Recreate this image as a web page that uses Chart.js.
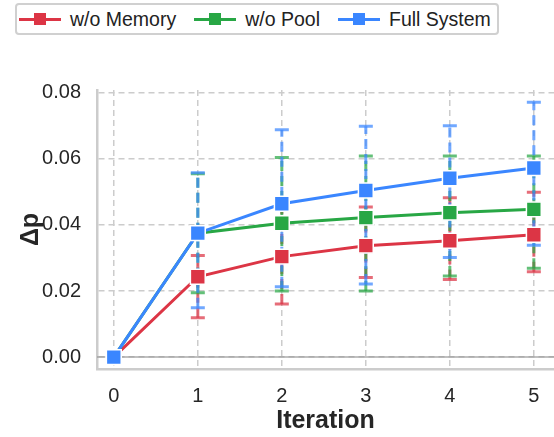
<!DOCTYPE html>
<html>
<head>
<meta charset="utf-8">
<script src="https://cdn.jsdelivr.net/npm/chart.js@4/dist/chart.umd.min.js"></script>
<style>
  body { margin: 0; background: #fff; font-family: 'Liberation Sans', Arial, sans-serif; }
  #wrap { position: relative; width: 554px; height: 437px; }
  #legend {
    position: absolute; left: 15px; top: 3px; width: 478px; height: 28px;
    border: 2px solid #d0d0d0; border-radius: 4px; background: #fff;
    display: flex; align-items: center; padding-left: 2px; box-sizing: content-box;
    font-size: 19.5px; color: #222; white-space: nowrap;
  }
  .item { display: flex; align-items: center; margin-right: 18px; }
  .glyph { position: relative; width: 42px; height: 3px; margin-right: 9px; }
  .glyph span { position: absolute; left: 15px; top: -5px; width: 12px; height: 12px; }
</style>
</head>
<body>
<div id="wrap">
  <canvas id="chart" width="554" height="437"></canvas>
  <div id="legend"></div>
</div>
<script>
// Datos
const iterations = [0, 1, 2, 3, 4, 5];
const yTicks = [0, 0.02, 0.04, 0.06, 0.08];

const memoryMean = [0, 0.0243, 0.0304, 0.0337, 0.0352, 0.0370];
const memoryLow  = [0, 0.0119, 0.0161, 0.0241, 0.0235, 0.0258];
const memoryHigh = [0, 0.0307, 0.0455, 0.0454, 0.0482, 0.0499];

const poolMean = [0, 0.0375, 0.0405, 0.0422, 0.0437, 0.0447];
const poolLow  = [0, 0.0195, 0.0200, 0.0200, 0.0245, 0.0269];
const poolHigh = [0, 0.0555, 0.0604, 0.0608, 0.0608, 0.0608];

const fullMean = [0, 0.0375, 0.0464, 0.0504, 0.0541, 0.0572];
const fullLow  = [0, 0.0149, 0.0213, 0.0221, 0.0301, 0.0338];
const fullHigh = [0, 0.0558, 0.0688, 0.0698, 0.0700, 0.0771];

const series = [
  { label: 'w/o Memory', mean: memoryMean, low: memoryLow, high: memoryHigh, color: '#dc3545', order: 2 },
  { label: 'w/o Pool', mean: poolMean, low: poolLow, high: poolHigh, color: '#28a745', order: 1 },
  { label: 'Full System', mean: fullMean, low: fullLow, high: fullHigh, color: '#3a86ff', order: 0 }
];

const xRange = [-0.2, 5.24];
const yRange = [-0.0036, 0.0808];

Chart.defaults.font.family = "'Liberation Sans', Arial, sans-serif";
Chart.defaults.color = '#262626';

// linea gris en y = 0 y barras de error discontinuas
const extras = {
  id: 'extras',
  beforeDatasetsDraw(chart) {
    const { ctx, chartArea, scales: { x, y } } = chart;
    const y0 = y.getPixelForValue(0);
    ctx.save();
    ctx.strokeStyle = 'rgba(150,150,150,0.6)';
    ctx.lineWidth = 2;
    ctx.beginPath();
    ctx.moveTo(chartArea.left, y0);
    ctx.lineTo(chartArea.right, y0);
    ctx.stroke();

    series.forEach(s => {
      ctx.strokeStyle = s.color;
      ctx.globalAlpha = 0.72;
      iterations.forEach((it, i) => {
        if (s.low[i] === s.high[i]) return;
        const px = x.getPixelForValue(it);
        const pLo = y.getPixelForValue(s.low[i]);
        const pHi = y.getPixelForValue(s.high[i]);
        ctx.lineWidth = 3;
        ctx.setLineDash([10, 5]);
        ctx.beginPath();
        ctx.moveTo(px, pLo);
        ctx.lineTo(px, pHi);
        ctx.stroke();
        ctx.setLineDash([]);
        ctx.lineWidth = 3;
        ctx.beginPath();
        ctx.moveTo(px - 7, pLo); ctx.lineTo(px + 7, pLo);
        ctx.moveTo(px - 7, pHi); ctx.lineTo(px + 7, pHi);
        ctx.stroke();
      });
    });
    ctx.restore();
  }
};

const chart = new Chart(document.getElementById('chart'), {
  type: 'line',
  data: {
    datasets: series.map(s => ({
      label: s.label,
      data: iterations.map((it, i) => ({ x: it, y: s.mean[i] })),
      borderColor: s.color,
      backgroundColor: s.color,
      borderWidth: 3,
      pointStyle: 'rect',
      pointRadius: 10.5,
      pointBorderColor: '#ffffff',
      pointBorderWidth: 1.5,
      order: s.order
    }))
  },
  options: {
    responsive: false,
    animation: false,
    devicePixelRatio: 1,
    layout: { autoPadding: false, padding: { top: 90, right: 0, left: 0, bottom: 0 } },
    plugins: { legend: { display: false }, tooltip: { enabled: false } },
    scales: {
      x: {
        type: 'linear',
        min: xRange[0],
        max: xRange[1],
        afterBuildTicks: s => {
          s.ticks = iterations.map(v => ({ value: v }));
          s.min = xRange[0];
          s.max = xRange[1];
        },
        afterFit: s => { s.height = 68; s.paddingLeft = 0; s.paddingRight = 0; },
        ticks: { font: { size: 20 }, color: '#262626', padding: 15, callback: v => String(v) },
        grid: { color: '#cccccc', lineWidth: 1.5, drawTicks: false },
        border: { display: true, color: '#cccccc', width: 2.5, dash: [6, 4] },
        title: { display: true, text: 'Iteration', font: { size: 25, weight: 'bold' }, color: '#262626', padding: { top: 0, bottom: 1 } }
      },
      y: {
        min: yRange[0],
        max: yRange[1],
        afterBuildTicks: s => {
          s.ticks = yTicks.map(v => ({ value: v }));
          s.min = yRange[0];
          s.max = yRange[1];
        },
        afterFit: s => { s.width = 97; s.paddingTop = 0; s.paddingBottom = 0; },
        ticks: { font: { size: 20 }, color: '#262626', padding: 16, callback: v => v.toFixed(2) },
        grid: { color: '#cccccc', lineWidth: 1.5, drawTicks: false },
        border: { display: true, color: '#cccccc', width: 2.5, dash: [6, 4] },
        title: { display: true, text: 'Δp', font: { size: 25, weight: 'bold' }, color: '#262626', padding: { top: 16, bottom: 0 } }
      }
    }
  },
  plugins: [extras]
});

// leyenda con recuadro
const legend = document.getElementById('legend');
series.forEach(s => {
  const item = document.createElement('div');
  item.className = 'item';
  item.innerHTML = '<div class="glyph" style="background:' + s.color + '"><span style="background:' + s.color + '"></span></div>' + s.label;
  legend.appendChild(item);
});
</script>
</body>
</html>
